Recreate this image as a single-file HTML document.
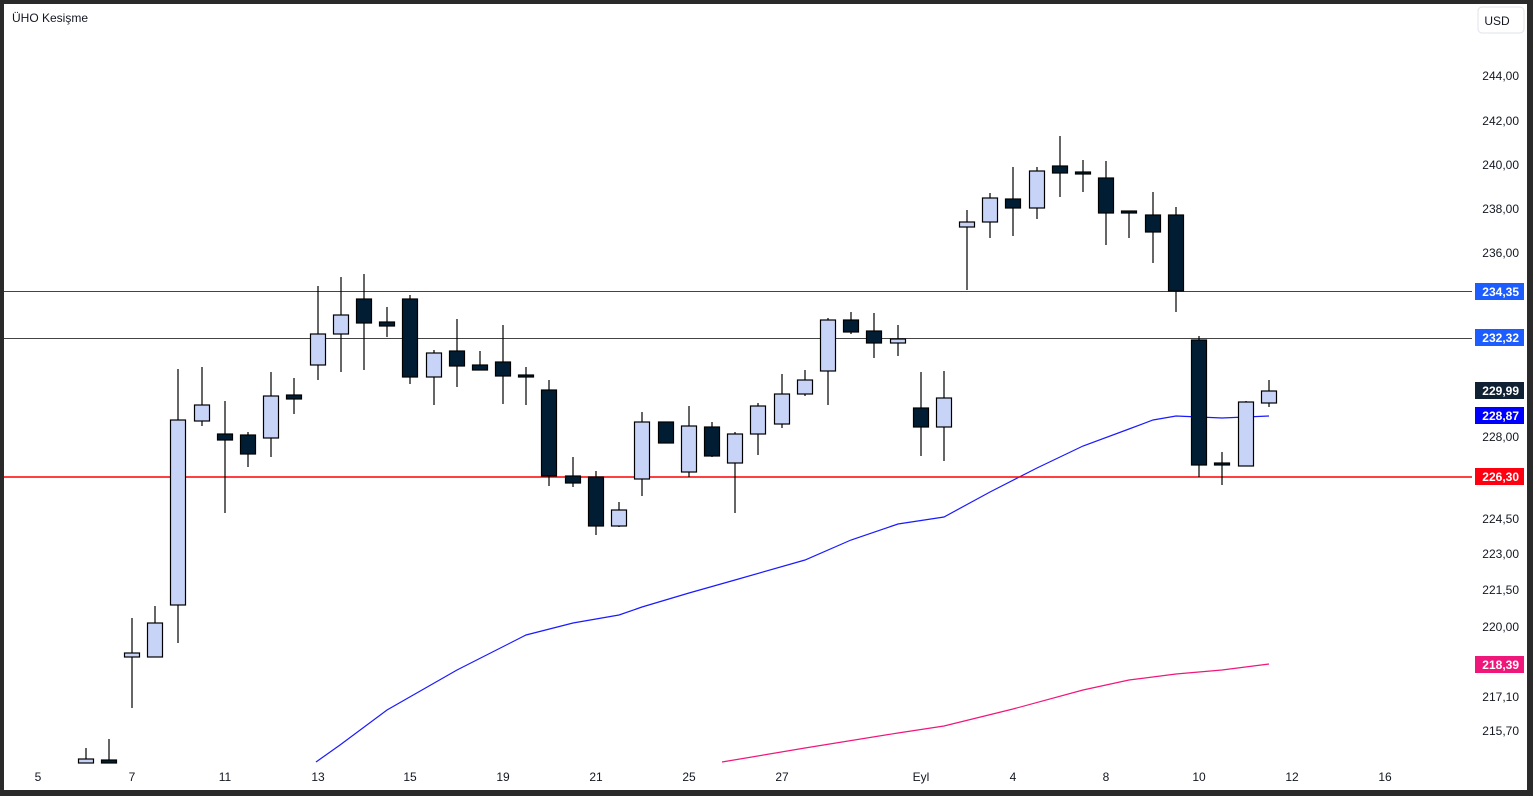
<!DOCTYPE html><html><head><meta charset="utf-8"><style>
html,body{margin:0;padding:0;background:#2a2a2a;}
svg{display:block}
text{font-family:"Liberation Sans",sans-serif;}
</style></head><body>
<svg width="1533" height="796" viewBox="0 0 1533 796" xmlns="http://www.w3.org/2000/svg">
<rect x="0" y="0" width="1533" height="796" fill="#2a2a2a"/>
<rect x="4" y="4" width="1523" height="786" fill="#fff"/>
<text x="12" y="22" font-size="12" fill="#131722">ÜHO Kesişme</text>
<rect x="1478" y="7" width="46" height="26" rx="4" fill="#fff" stroke="#e0e3eb"/>
<text x="1497" y="25" font-size="12" fill="#131722" text-anchor="middle">USD</text>
<line x1="4" y1="291.5" x2="1472" y2="291.5" stroke="#444" stroke-width="1"/>
<line x1="4" y1="338.5" x2="1472" y2="338.5" stroke="#444" stroke-width="1"/>
<polyline fill="none" stroke="#1a1aff" stroke-width="1.2" points="316,762 340,745 387,710 457,670 526,635 573,623 619,615 642,607 689,593 735,580 805,560 851,540 898,524 944,517 990,492 1037,468 1083,446 1129,429 1153,420 1176,416 1222,418 1269,416"/>
<polyline fill="none" stroke="#f0177a" stroke-width="1.2" points="722,762 805,748 898,733 944,726 1013,709 1083,690 1129,680 1176,674 1222,670 1269,664"/>
<line x1="4" y1="477" x2="1472" y2="477" stroke="#ff0000" stroke-width="1.5"/>
<g stroke="#000" stroke-width="1.2">
<line x1="86" y1="748" x2="86" y2="759"/><rect x="78.5" y="759" width="15" height="4" fill="#c8d3f8"/>
<line x1="109" y1="739" x2="109" y2="760"/><rect x="101.5" y="760" width="15" height="3" fill="#001d33"/>
<line x1="132" y1="618" x2="132" y2="708"/><rect x="124.5" y="653" width="15" height="4" fill="#c8d3f8"/>
<line x1="155" y1="606" x2="155" y2="657"/><rect x="147.5" y="623" width="15" height="34" fill="#c8d3f8"/>
<line x1="178" y1="369" x2="178" y2="643"/><rect x="170.5" y="420" width="15" height="185" fill="#c8d3f8"/>
<line x1="202" y1="367" x2="202" y2="426"/><rect x="194.5" y="405" width="15" height="16" fill="#c8d3f8"/>
<line x1="225" y1="401" x2="225" y2="513"/><rect x="217.5" y="434" width="15" height="6" fill="#001d33"/>
<line x1="248" y1="432" x2="248" y2="467"/><rect x="240.5" y="435" width="15" height="19" fill="#001d33"/>
<line x1="271" y1="372" x2="271" y2="457"/><rect x="263.5" y="396" width="15" height="42" fill="#c8d3f8"/>
<line x1="294" y1="378" x2="294" y2="414"/><rect x="286.5" y="395" width="15" height="4" fill="#001d33"/>
<line x1="318" y1="286" x2="318" y2="380"/><rect x="310.5" y="334" width="15" height="31" fill="#c8d3f8"/>
<line x1="341" y1="277" x2="341" y2="372"/><rect x="333.5" y="315" width="15" height="19" fill="#c8d3f8"/>
<line x1="364" y1="274" x2="364" y2="370"/><rect x="356.5" y="299" width="15" height="24" fill="#001d33"/>
<line x1="387" y1="307" x2="387" y2="337"/><rect x="379.5" y="322" width="15" height="4" fill="#001d33"/>
<line x1="410" y1="295" x2="410" y2="384"/><rect x="402.5" y="299" width="15" height="78" fill="#001d33"/>
<line x1="434" y1="350" x2="434" y2="405"/><rect x="426.5" y="353" width="15" height="24" fill="#c8d3f8"/>
<line x1="457" y1="319" x2="457" y2="387"/><rect x="449.5" y="351" width="15" height="15" fill="#001d33"/>
<line x1="480" y1="351" x2="480" y2="370"/><rect x="472.5" y="365" width="15" height="5" fill="#001d33"/>
<line x1="503" y1="325" x2="503" y2="404"/><rect x="495.5" y="362" width="15" height="14" fill="#001d33"/>
<line x1="526" y1="367" x2="526" y2="405"/><rect x="518.5" y="375" width="15" height="2" fill="#001d33"/>
<line x1="549" y1="380" x2="549" y2="486"/><rect x="541.5" y="390" width="15" height="86" fill="#001d33"/>
<line x1="573" y1="457" x2="573" y2="487"/><rect x="565.5" y="476" width="15" height="7" fill="#001d33"/>
<line x1="596" y1="471" x2="596" y2="535"/><rect x="588.5" y="477" width="15" height="49" fill="#001d33"/>
<line x1="619" y1="502" x2="619" y2="527"/><rect x="611.5" y="510" width="15" height="16" fill="#c8d3f8"/>
<line x1="642" y1="412" x2="642" y2="496"/><rect x="634.5" y="422" width="15" height="57" fill="#c8d3f8"/>
<line x1="666" y1="422" x2="666" y2="443"/><rect x="658.5" y="422" width="15" height="21" fill="#001d33"/>
<line x1="689" y1="406" x2="689" y2="477"/><rect x="681.5" y="426" width="15" height="46" fill="#c8d3f8"/>
<line x1="712" y1="422" x2="712" y2="457"/><rect x="704.5" y="427" width="15" height="29" fill="#001d33"/>
<line x1="735" y1="432" x2="735" y2="513"/><rect x="727.5" y="434" width="15" height="29" fill="#c8d3f8"/>
<line x1="758" y1="403" x2="758" y2="455"/><rect x="750.5" y="406" width="15" height="28" fill="#c8d3f8"/>
<line x1="782" y1="374" x2="782" y2="428"/><rect x="774.5" y="394" width="15" height="30" fill="#c8d3f8"/>
<line x1="805" y1="370" x2="805" y2="396"/><rect x="797.5" y="380" width="15" height="14" fill="#c8d3f8"/>
<line x1="828" y1="318" x2="828" y2="405"/><rect x="820.5" y="320" width="15" height="51" fill="#c8d3f8"/>
<line x1="851" y1="312" x2="851" y2="334"/><rect x="843.5" y="320" width="15" height="12" fill="#001d33"/>
<line x1="874" y1="313" x2="874" y2="358"/><rect x="866.5" y="331" width="15" height="12" fill="#001d33"/>
<line x1="898" y1="325" x2="898" y2="356"/><rect x="890.5" y="339" width="15" height="4" fill="#c8d3f8"/>
<line x1="921" y1="372" x2="921" y2="456"/><rect x="913.5" y="408" width="15" height="19" fill="#001d33"/>
<line x1="944" y1="371" x2="944" y2="461"/><rect x="936.5" y="398" width="15" height="29" fill="#c8d3f8"/>
<line x1="967" y1="210" x2="967" y2="290"/><rect x="959.5" y="222" width="15" height="5" fill="#c8d3f8"/>
<line x1="990" y1="193" x2="990" y2="238"/><rect x="982.5" y="198" width="15" height="24" fill="#c8d3f8"/>
<line x1="1013" y1="167" x2="1013" y2="236"/><rect x="1005.5" y="199" width="15" height="9" fill="#001d33"/>
<line x1="1037" y1="167" x2="1037" y2="219"/><rect x="1029.5" y="171" width="15" height="37" fill="#c8d3f8"/>
<line x1="1060" y1="136" x2="1060" y2="197"/><rect x="1052.5" y="166" width="15" height="7" fill="#001d33"/>
<line x1="1083" y1="160" x2="1083" y2="192"/><rect x="1075.5" y="172" width="15" height="2" fill="#001d33"/>
<line x1="1106" y1="161" x2="1106" y2="245"/><rect x="1098.5" y="178" width="15" height="35" fill="#001d33"/>
<line x1="1129" y1="211" x2="1129" y2="238"/><rect x="1121.5" y="211" width="15" height="2" fill="#001d33"/>
<line x1="1153" y1="192" x2="1153" y2="263"/><rect x="1145.5" y="215" width="15" height="17" fill="#001d33"/>
<line x1="1176" y1="207" x2="1176" y2="312"/><rect x="1168.5" y="215" width="15" height="76" fill="#001d33"/>
<line x1="1199" y1="336" x2="1199" y2="477"/><rect x="1191.5" y="340" width="15" height="125" fill="#001d33"/>
<line x1="1222" y1="452" x2="1222" y2="485"/><rect x="1214.5" y="463" width="15" height="2" fill="#001d33"/>
<line x1="1246" y1="401" x2="1246" y2="466"/><rect x="1238.5" y="402" width="15" height="64" fill="#c8d3f8"/>
<line x1="1269" y1="380" x2="1269" y2="407"/><rect x="1261.5" y="391" width="15" height="12" fill="#c8d3f8"/>
</g>
<g font-size="12" fill="#131722" text-anchor="end">
<text x="1519" y="80">244,00</text>
<text x="1519" y="125">242,00</text>
<text x="1519" y="169">240,00</text>
<text x="1519" y="213">238,00</text>
<text x="1519" y="257">236,00</text>
<text x="1519" y="441">228,00</text>
<text x="1519" y="523">224,50</text>
<text x="1519" y="558">223,00</text>
<text x="1519" y="594">221,50</text>
<text x="1519" y="631">220,00</text>
<text x="1519" y="701">217,10</text>
<text x="1519" y="735">215,70</text>
</g>
<g font-size="12" font-weight="bold" fill="#fff" text-anchor="end">
<rect x="1475" y="283" width="49" height="17" fill="#1d5cff"/><text x="1519" y="296">234,35</text>
<rect x="1475" y="329" width="49" height="17" fill="#1d5cff"/><text x="1519" y="342">232,32</text>
<rect x="1475" y="382" width="49" height="17" fill="#0f2132"/><text x="1519" y="395">229,99</text>
<rect x="1475" y="407" width="49" height="17" fill="#0000ff"/><text x="1519" y="420">228,87</text>
<rect x="1475" y="468" width="49" height="17" fill="#ff0010"/><text x="1519" y="481">226,30</text>
<rect x="1475" y="656" width="49" height="17" fill="#f0177a"/><text x="1519" y="669">218,39</text>
</g>
<g font-size="12" fill="#131722" text-anchor="middle">
<text x="38" y="781">5</text><text x="132" y="781">7</text><text x="225" y="781">11</text>
<text x="318" y="781">13</text><text x="410" y="781">15</text><text x="503" y="781">19</text>
<text x="596" y="781">21</text><text x="689" y="781">25</text><text x="782" y="781">27</text>
<text x="921" y="781">Eyl</text><text x="1013" y="781">4</text><text x="1106" y="781">8</text>
<text x="1199" y="781">10</text><text x="1292" y="781">12</text><text x="1385" y="781">16</text>
</g>
</svg>
</body></html>
